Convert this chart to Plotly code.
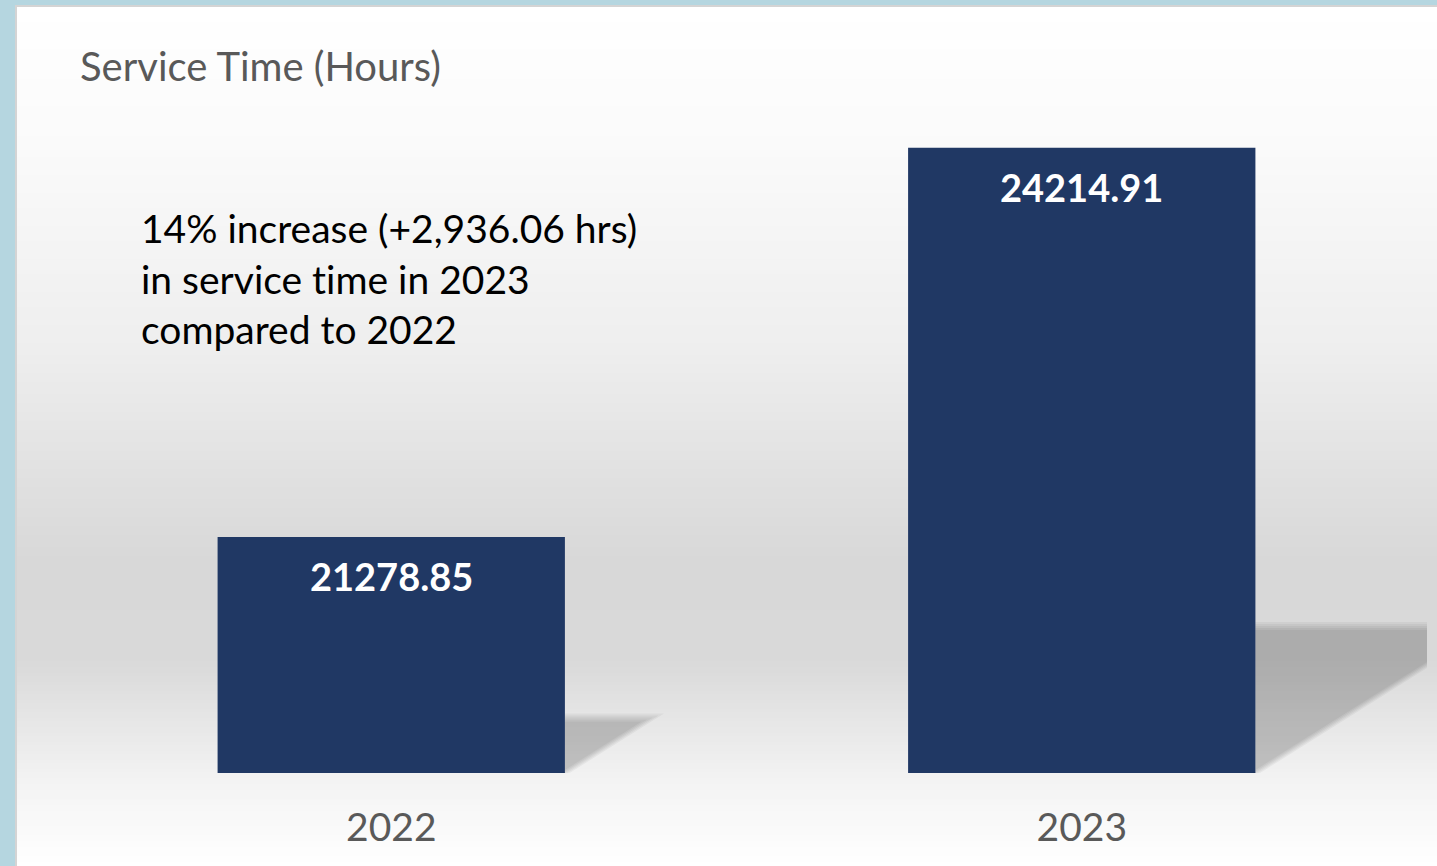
import plotly.graph_objects as go

# chart data
years = ["2022", "2023"]
hours = [21278.85, 24214.91]
labels = ["21278.85", "24214.91"]
title_text = "Service Time (Hours)"
note_lines = ["14% increase (+2,936.06 hrs)", "in service t\u200cime in 2023", "compared to 2022"]

# background gradient stops (pixel row, grey level)
grad_rows = [7, 150, 350, 560, 660, 780, 866]
grad_levels = [255, 250, 238, 216, 217, 243, 255]

W, H = 1437, 866
ML, MR, MT, MB = 46, 10, 110, 93
PW, PH = W - ML - MR, H - MT - MB
Y_MIN, Y_MAX = 19500, 24500
BAR_COLOR = "#203864"


def px(x):
    """ pixel column -> paper x """
    return (x - ML) / PW


def py(y):
    """ pixel row -> paper y """
    return (H - MB - y) / PH


def level_at(row):
    for i in range(len(grad_rows) - 1):
        r0, r1 = grad_rows[i], grad_rows[i + 1]
        if r0 <= row <= r1:
            t = (row - r0) / (r1 - r0)
            return grad_levels[i] + t * (grad_levels[i + 1] - grad_levels[i])
    return grad_levels[-1]


fig = go.Figure()

### frame and gradient backdrop
shapes = [dict(type="rect", xref="paper", yref="paper", layer="below",
               x0=px(15), x1=px(W + 20), y0=py(5), y1=py(H + 20),
               fillcolor="#d4d4d4", line=dict(width=0))]
step = 3
for row in range(7, H + step, step):
    g = int(round(level_at(row + step / 2)))
    shapes.append(dict(type="rect", xref="paper", yref="paper", layer="below",
                       x0=px(17), x1=px(W + 20), y0=py(row + step + 0.5), y1=py(row),
                       fillcolor=f"rgb({g},{g},{g})", line=dict(width=0)))

### bar shadows (soft, projected to the right of each bar)
bar_w = 0.503
px_per_unit = PH / (Y_MAX - Y_MIN)
cat_px = PW / 2.0
slope = 0.63
for i, v in enumerate(hours):
    h = 0.235 * (v - Y_MIN) * px_per_unit      # shadow height in px
    right = i + bar_w / 2
    for e in [-4, -2, 0, 2, 4]:
        top_px = h + e
        xs_px = [0, 0, 1.2 * e + top_px / slope, 1.2 * e, 0]
        ys_px = [0, top_px, top_px, 0, 0]
        fig.add_trace(go.Scatter(
            x=[right + a / cat_px for a in xs_px],
            y=[Y_MIN + b / px_per_unit for b in ys_px],
            mode="lines", fill="toself", line=dict(width=0),
            fillcolor="rgba(0,0,0,0.045)", hoverinfo="skip", showlegend=False))

fig.add_trace(go.Bar(x=list(range(len(years))), y=hours, width=bar_w,
                     marker=dict(color=BAR_COLOR, line=dict(width=0)),
                     hoverinfo="skip", showlegend=False))

annotations = []
for i, (v, lab) in enumerate(zip(hours, labels)):
    annotations.append(dict(x=i, y=v, xref="x", yref="y", text=f"<b>{lab}</b>",
                            showarrow=False, yanchor="top", yshift=-14,
                            font=dict(family="Lato", size=38, color="white")))

annotations.append(dict(x=px(78), y=py(40), xref="paper", yref="paper", text=title_text,
                        showarrow=False, xanchor="left", yanchor="top",
                        font=dict(family="Lato", size=40, color="#595959")))
annotations.append(dict(x=px(139), y=py(203), xref="paper", yref="paper",
                        text="<br>".join(note_lines), align="left",
                        showarrow=False, xanchor="left", yanchor="top",
                        font=dict(family="Lato", size=39, color="black")))

fig.update_layout(width=W, height=H, paper_bgcolor="#b5d6e0", plot_bgcolor="rgba(0,0,0,0)",
                  margin=dict(l=ML, r=MR, t=MT, b=MB, pad=0),
                  shapes=shapes, annotations=annotations, bargap=0.5)
fig.update_xaxes(range=[-0.5, 1.5], tickvals=list(range(len(years))), ticktext=years,
                 showgrid=False, zeroline=False, showline=False, ticks="",
                 ticklabelstandoff=28,
                 tickfont=dict(family="Lato", size=39, color="#595959"), fixedrange=True)
fig.update_yaxes(range=[Y_MIN, Y_MAX], visible=False, showgrid=False, fixedrange=True)

fig.write_html("out.html", config={"displayModeBar": False},
               post_script="document.body.style.margin='0';")
